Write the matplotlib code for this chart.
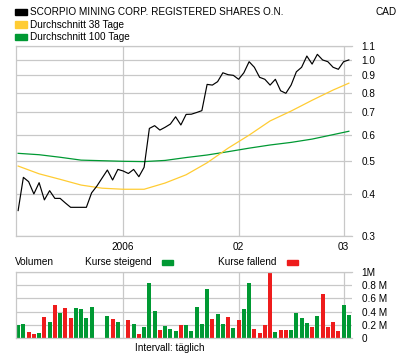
import matplotlib
matplotlib.use('Agg')
import matplotlib.pyplot as plt
from matplotlib.patches import Rectangle

plt.rcParams['font.family'] = ['Liberation Sans', 'DejaVu Sans']

# trading days, 0 = 5 Dec 2005 ... 63 = 2 Mar 2006
price = [0.357, 0.448, 0.435, 0.400, 0.432, 0.384, 0.409, 0.388, 0.388, 0.376,
         0.365, 0.365, 0.365, 0.365, 0.403, 0.422, 0.446, 0.471, 0.440, 0.473,
         0.468, 0.460, 0.473, 0.450, 0.480, 0.626, 0.638, 0.619, 0.631, 0.645,
         0.678, 0.641, 0.689, 0.690, 0.698, 0.707, 0.846, 0.842, 0.862, 0.916,
         0.904, 0.900, 0.876, 0.916, 0.988, 0.951, 0.888, 0.876, 0.842, 0.876,
         0.810, 0.796, 0.842, 0.922, 0.951, 1.027, 0.972, 1.039, 1.000, 0.988,
         0.951, 0.938, 0.988, 1.000]

ma_days = [0, 4, 8, 12, 16, 20, 24, 28, 32, 36, 40, 44, 48, 52, 56, 60, 63]
ma38 = [0.484, 0.459, 0.442, 0.425, 0.416, 0.413, 0.413, 0.431, 0.456, 0.495,
        0.547, 0.598, 0.659, 0.705, 0.759, 0.814, 0.853]
ma100 = [0.528, 0.523, 0.514, 0.504, 0.502, 0.500, 0.499, 0.503, 0.513, 0.522,
         0.534, 0.547, 0.559, 0.569, 0.582, 0.600, 0.614]

vol_days = [0, 1, 2, 3, 4, 5, 6, 7, 8, 9, 10, 11, 12, 13, 14, 17, 18, 19,
            21, 22, 23, 24, 25, 26, 27, 28, 29, 30, 31, 32, 33, 34, 35, 36, 37, 38, 39,
            40, 41, 42, 43, 44, 45, 46, 47, 48, 49, 50, 51, 52, 53, 54, 55, 56, 57, 58,
            59, 60, 61, 62, 63]
volume = [0.20, 0.215, 0.095, 0.065, 0.08, 0.32, 0.245, 0.50, 0.38, 0.455, 0.305,
          0.455, 0.44, 0.305, 0.47, 0.335, 0.29, 0.245,
          0.275, 0.215, 0.065, 0.17, 0.83, 0.41, 0.125, 0.185, 0.14, 0.11, 0.20, 0.20,
          0.11, 0.47, 0.215, 0.74, 0.29, 0.365, 0.215,
          0.32, 0.155, 0.275, 0.44, 0.83, 0.14, 0.08, 0.20, 1.00, 0.095, 0.125, 0.125,
          0.125, 0.38, 0.31, 0.23, 0.17, 0.335, 0.67, 0.17, 0.245, 0.11, 0.50, 0.35]
# g = Kurse steigend, r = Kurse fallend
updown = ('ggrrgrgrgrrgggg' + 'grg' +
          'rgrgggrgggrgggggrggrgrggrrrrgrrggggrgrrrrgg')

month_days = [20, 42, 62]
month_labels = ['2006', '02', '03']
price_ticks = [0.3, 0.4, 0.5, 0.6, 0.7, 0.8, 0.9, 1.0, 1.1]
vol_ticks = [0, 0.2, 0.4, 0.6, 0.8, 1.0]
vol_labels = ['0', '0.2 M', '0.4 M', '0.6 M', '0.8 M', '1M']

W, H = 400, 357
grid_c = '#c8c8c8'
green = '#009933'
red = '#ee1c1c'
yellow = '#ffcc33'
fs = 7.2

fig = plt.figure(figsize=(W / 100, H / 100), dpi=100)


def box(l, t, r, b):
    return [l / W, 1 - b / H, (r - l) / W, (b - t) / H]


ax = fig.add_axes(box(15.5, 46, 352, 236))
ax.set_yscale('log')
ax.plot(ma_days, ma100, color=green, lw=0.9)
ax.plot(ma_days, ma38, color=yellow, lw=0.9)
ax.plot(range(len(price)), price, color='black', lw=0.85)
ax.set_ylim(0.3, 1.1)
ax.set_xlim(-0.5, 63.6)
ax.set_yticks(price_ticks)
ax.set_yticklabels([f'{v:.1f}' for v in price_ticks])
ax.minorticks_off()
ax.set_xticks(month_days)
ax.set_xticklabels(month_labels)

vax = fig.add_axes(box(15.5, 272, 352, 338))
colors = [green if c == 'g' else red for c in updown]
vax.bar(vol_days, volume, width=0.76, color=colors)
vax.set_ylim(0, 1.0)
vax.set_xlim(-0.5, 63.6)
vax.set_yticks(vol_ticks)
vax.set_yticklabels(vol_labels)
vax.set_xticks(month_days)
vax.set_xticklabels([])

for a in (ax, vax):
    a.yaxis.tick_right()
    a.tick_params(length=0, labelsize=fs, pad=7)
    a.tick_params(axis='x', pad=4)
    a.grid(True, color=grid_c, lw=0.9)
    a.set_axisbelow(True)
    for s in ('top', 'bottom', 'left'):
        a.spines[s].set_color(grid_c)
        a.spines[s].set_linewidth(0.9)
    a.spines['right'].set_visible(False)

# legend on top
rows = [('SCORPIO MINING CORP. REGISTERED SHARES O.N.', 'black', 12),
        ('Durchschnitt 38 Tage', yellow, 24.5),
        ('Durchschnitt 100 Tage', green, 37)]
for label, c, y in rows:
    fig.add_artist(Rectangle((15 / W, 1 - (y + 3) / H), 12 / W, 6 / H,
                             transform=fig.transFigure, color=c))
    fig.text(30 / W, 1 - y / H, label, fontsize=fs, va='center')
fig.text(397 / W, 1 - 12 / H, 'CAD', fontsize=fs, va='center', ha='right')

fig.text(15 / W, 1 - 262 / H, 'Volumen', fontsize=fs, va='center')
fig.text(85 / W, 1 - 262 / H, 'Kurse steigend', fontsize=fs, va='center')
fig.add_artist(Rectangle((162 / W, 1 - 265 / H), 11 / W, 5 / H,
                         transform=fig.transFigure, color=green))
fig.text(218 / W, 1 - 262 / H, 'Kurse fallend', fontsize=fs, va='center')
fig.add_artist(Rectangle((287 / W, 1 - 265 / H), 11 / W, 5 / H,
                         transform=fig.transFigure, color=red))
fig.text(170 / W, 1 - 348 / H, 'Intervall: täglich', fontsize=fs, va='center', ha='center')

fig.savefig('out.png', dpi=100)
